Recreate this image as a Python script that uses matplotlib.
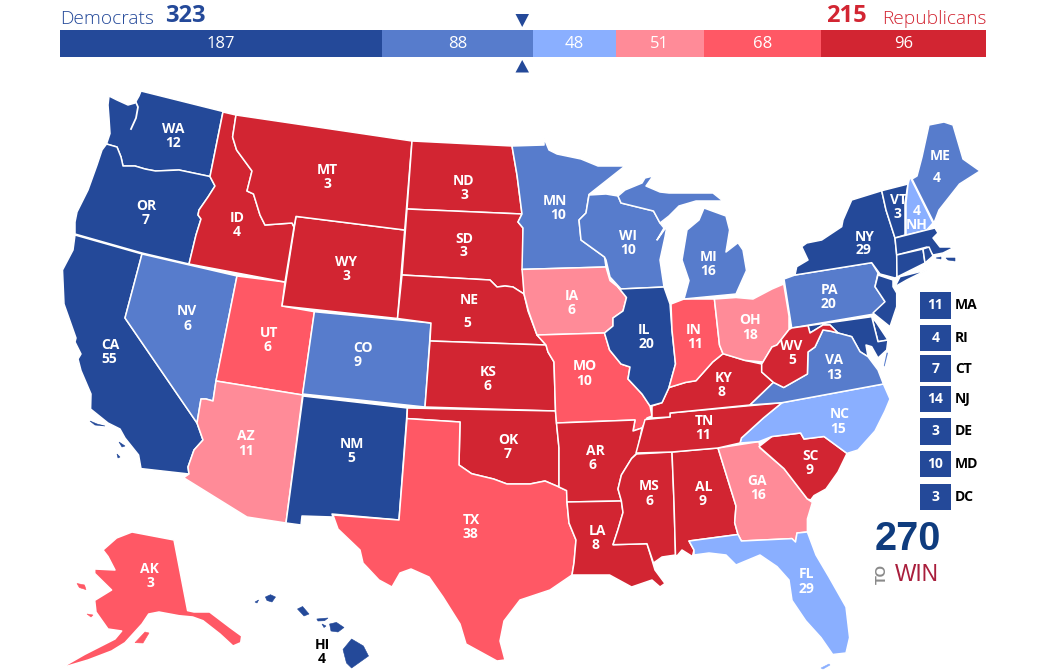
import matplotlib
matplotlib.use("Agg")
import matplotlib.pyplot as plt
from matplotlib.patches import Polygon, Rectangle

# ---- data ----
PARTIES = ["Democrats", "Republicans"]
TOTALS = [323, 215]
SEGMENTS = [187, 88, 48, 51, 68, 96]
PALETTE = ["#244999", "#577CCC", "#8AAFFF", "#FF8B98", "#FF5865", "#D22532"]

VOTES = {"WA":12,"OR":7,"CA":55,"NV":6,"ID":4,"MT":3,"WY":3,"UT":6,"AZ":11,"CO":9,"NM":5,
 "ND":3,"SD":3,"NE":5,"KS":6,"OK":7,"TX":38,"MN":10,"IA":6,"MO":10,"AR":6,"LA":8,"WI":10,
 "IL":20,"MI":16,"IN":11,"OH":18,"KY":8,"TN":11,"MS":6,"AL":9,"GA":16,"FL":29,"SC":9,"NC":15,
 "VA":13,"WV":5,"PA":20,"NY":29,"VT":3,"NH":4,"ME":4,"AK":3,"HI":4,
 "MA":11,"RI":4,"CT":7,"NJ":14,"DE":3,"MD":10,"DC":3}
RATING = {0:"WA OR CA NM IL NY VT MA RI CT NJ DE MD DC HI",
          1:"NV CO MN WI MI PA VA ME",
          2:"NH FL NC",
          3:"AZ IA OH GA",
          4:"AK UT TX MO IN",
          5:"ID MT WY ND SD NE KS OK AR LA MS AL TN KY WV SC"}
SIDE_STATES = ["MA", "RI", "CT", "NJ", "DE", "MD", "DC"]

# ---- map geometry (screen pixels of the drawing) ----
SHAPES = {
"WA":[[(109,96),(117,100),(128,105),(135,103),(139,96),(141,91),(223,111.5),(210,176.5),(179,170),(155.5,171),(145,169),(135,166),(123,166),(121,157),(117,147),(106.5,144),(110,133.5),(109,118),(108,105)]],
"OR":[[(106.5,144),(117,147),(121,157),(123,166),(135,166),(145,169),(155.5,171),(179,170),(210,176.5),(215,186),(208,197),(199,210),(198,215),(201,219),(196,235),(189,264),(142,253),(75,234),(75,222),(77,212),(88,190),(97,165),(102,150)]],
"CA":[[(75,235),(142,254),(125,318),(197,423),(203,440),(194,450),(188,467),(189,474),(141,468.6),(138.6,455),(125,438),(120,429),(108,423),(90.6,409),(91,394),(81,370.6),(78,359),(81,354),(75,342),(76,338),(64,304),(62.5,270),(73,250)]],
"NV":[[(142,254),(237,276),(216,381),(213,401),(206,399),(201,399),(199.5,408),(197,423),(125,318)]],
"UT":[[(237,276),(285,282),(282,306),(314.4,311.7),(302.6,395),(216,381)]],
"AZ":[[(216,381),(302.6,395),(286,523),(247,517),(183.6,477.7),(189,474),(188,467),(194,450),(203,440),(197,423),(199.5,408),(201,399),(206,399),(213,401)]],
"NM":[[(303,396),(407.4,408),(399,520),(332,514),(333,517),(302,516),(301,525),(286,523)]],
"CO":[[(314.4,311.7),(431,323),(425,407),(302.6,394)]],
"WY":[[(296,216.4),(404.7,230),(397.5,318.5),(282,306)]],
"ID":[[(223,112),(236,115),(232.6,137),(236.6,150),(252,171),(247,191),(253.5,194),(260,215),(265,225),(292,223),(294,227),(285,282),(189,264),(196,235),(201,219),(198,215),(199,210),(208,197),(215,186),(210,176.5)]],
"MT":[[(236,115),(412,141),(404.7,230),(296,216.4),(294,227),(292,223),(265,225),(260,215),(253.5,194),(247,191),(252,171),(236.6,150),(232.6,137)]],
"ND":[[(412,141),(512,146),(517,175),(522,214),(407,209)]],
"SD":[[(407,209),(522,214),(518,222),(523,228),(523,270),(524,294),(513,287),(505,286),(497,287),(490,280),(402,275)]],
"NE":[[(402,275),(490,280),(497,287),(505,286),(513,287),(524,294),(528,311),(537,335),(546,345),(430,341),(431,323),(397.5,318.5)]],
"KS":[[(430,341),(546,345),(548,352),(554,362),(555.5,411),(425,407)]],
"OK":[[(407.4,408),(555.5,411),(556.5,423),(559,448),(559,487),(545,481),(530,484),(520,484),(507,484),(493.6,479),(471.6,473.7),(459,465),(460,422),(407,418.6)]],
"TX":[[(407,418.6),(460,422),(459,465),(471.6,473.7),(493.6,479),(507,484),(520,484),(530,484),(545,481),(559,487),(566.6,490.6),(567,502),(569,523),(576,540),(574,563),(572,575),(550,590),(520,600),(504,621),(500,641),(505,660),(497,661),(466,644),(460,624),(443,597),(429,577),(411,569),(400,573),(392,587),(379,580),(363,563),(360,550),(338,529),(333,515),(399,520)]],
"MN":[[(512,146),(544,145),(544,138),(549,150),(557,154),(581,159),(598,166),(625,166),(589,194.4),(586,213),(579,220),(581,240),(604.5,257),(606,267),(522,269.4),(523,228),(518,222),(522,214),(517,175)]],
"WI":[[(589,195),(606,194),(618,196),(621,203),(653.5,211),(660,223),(664,228),(657,240),(667,226),(665,237),(660,260),(664,287),(621,289),(610,277),(606,260),(604.5,257),(581,240),(579,220),(586,213)]],
"IA":[[(522,269.4),(606,267),(610,280.6),(618,287),(626.5,297.5),(623,311),(613,318),(613,326),(604.5,333),(537,335),(528.5,311),(524,294),(523,280)]],
"MO":[[(537,335),(604.5,333),(606,338),(609.6,350),(621,364),(630,367),(628,379),(642,394),(650,406),(652,416),(647,418),(642,428),(633,431),(635,420),(556.5,423),(555.5,411),(554,362),(548,352),(546,345)]],
"AR":[[(556.5,423),(635,420),(633,431),(642,428),(637,453),(631.6,458.5),(621.4,475),(618,489),(621.4,501),(567,502),(566.6,490.6),(559,487),(559,448)]],
"LA":[[(567,502),(621.4,501),(623,512.5),(618,529.5),(613,544.7),(647,543.7),(652,560),(655,570),(665,583.5),(660,587),(652,580),(631.6,587),(609.6,575),(584,575),(572,575),(574,563),(576,540),(569,523)]],
"MS":[[(636.6,454),(672,452),(674,502),(675.5,555),(662,557),(653.5,563),(647,543.7),(613,544.7),(618,529.5),(623,512.5),(621.4,501),(618,489),(621.4,475),(631.6,458.5)]],
"AL":[[(672,452),(718,448),(736,506),(734.7,522.7),(738,534.5),(689,541),(694,550),(692.4,556.5),(682,550),(677,556),(675.5,555),(674,502)]],
"GA":[[(718,448),(759,441.6),(760,448),(784,468.6),(807.4,499),(812.4,502.4),(807.4,519),(807.4,532),(797,533),(795.5,542),(792,538.6),(741.4,541),(738,534.5),(734.7,522.7),(736,506)]],
"FL":[[(689,541),(738,534.5),(741.4,541),(792,538.6),(795.5,542),(797,533),(807.4,532),(816,555),(829,577),(846,607),(849.6,637.6),(846,653),(832.7,654.5),(821,637.6),(805.7,620.7),(792,600.4),(789,580),(777,566.6),(760,555),(748,560),(736,565),(726,555),(709,553),(694,555),(694,550)]],
"SC":[[(759,446.6),(772,436.5),(800.6,433),(804,439),(824,436.5),(847,453.4),(838,472),(826,489),(814,495.6),(810.7,500),(807.4,499),(784,468.6)]],
"NC":[[(740,443),(741.4,438),(763.4,418),(782,402.7),(883.4,384),(890,399),(885,411),(875,431),(858,450),(847,453.4),(824,436.5),(804,439),(800.6,433),(772,436.5),(759,441.6)]],
"TN":[[(636,453),(645,419.6),(670,417),(670,413),(782,402.7),(763.4,418),(741.4,438),(740,443),(718,448),(672,452)]],
"KY":[[(652,416),(652,406),(662,402.7),(669,387.5),(685.6,382.4),(696,380.7),(712.7,362),(723,353.7),(745,360.4),(761.7,364),(761.7,372),(773.5,382.4),(750,405),(670,413),(670,417),(652,418)]],
"IL":[[(620,289),(664,287),(670,304),(672,330),(675.5,364),(669,387.5),(662,402.7),(650,406),(642,394),(628,379),(630,367),(621,364),(609.6,350),(606,338),(604.5,333),(613,326),(613,318),(623,311),(626.5,297.5),(618,287)]],
"IN":[[(671,304),(684,299),(714.4,299),(719.5,345),(723,353.7),(712.7,362),(696,380.7),(685.6,382.4),(669,387.5),(675.5,364),(672,330)]],
"OH":[[(714.4,299),(736,297.5),(753,299),(772,289),(783.7,284),(789,316),(789,329.6),(777,345),(772,347),(763,362),(745,360.4),(723,353.7),(719.5,345)]],
"MI":[[(684,299),(736,294),(746.5,270.5),(743,250),(738,242.7),(726,252),(729.6,230),(726,216),(704,208),(699,220),(687,230),(682,260),(689,280.6)],
      [(618,196),(625,190),(642,183),(645,178),(653,176),(646,186),(660,192),(669,193),(713,193),(723,201),(696,201),(679,206),(669,216),(660,223),(653.5,211),(621,203)]],
"PA":[[(784,279),(795,275),(871.7,262.7),(878,273),(875,286.7),(885,301.7),(880,313),(791.7,328)]],
"NY":[[(795,275),(796.7,266.7),(808,260),(801.7,246.7),(806.7,243),(821.7,240),(841.7,226.7),(843,220),(851.7,200),(881.7,190.7),(886,210),(895,238),(896.7,255),(897,277),(895,278),(880,274),(871.7,262.7)],
      [(895,286.7),(900,276.7),(926.7,270),(906.7,280)]],
"NJ":[[(878,275),(893,280),(893,286.7),(896.7,293),(896.7,306.7),(890,326.7),(873,313),(885,301.7),(875,286.7)]],
"DE":[[(871.7,316.7),(876.7,323),(888,340),(878,341.7)]],
"MD":[[(808,325.7),(871.7,316.7),(878,341.7),(888,340),(886.7,350),(878,358),(871.7,346.7),(866,345),(868,356.7),(860,351.7),(851.7,336.7),(838,333),(830,325),(823,325),(810,333)]],
"VA":[[(750,405),(773.5,382.4),(783.7,387.5),(807.4,374),(808,352),(815,347),(823,330),(830,331),(838,333),(851.7,336.7),(860,351.7),(868,356.7),(878,370),(883.4,384),(782,402.7)],
      [(886,352),(889,352),(885,368),(883,366)]],
"WV":[[(761.7,364),(763,362),(772,347),(777,345),(789,329.6),(791.7,328),(808,325.7),(810,333),(823,325),(830,325),(838,333),(830,331),(823,330),(815,347),(808,352),(807.4,374),(783.7,387.5),(773.5,382.4),(761.7,372)]],
"VT":[[(881.7,190.7),(908,184),(905,203),(905,235),(895,238),(886,210)]],
"NH":[[(910,176.7),(916.7,190),(933,223),(926.7,230),(906,235),(906,203),(908,184)]],
"ME":[[(917,176),(922,157),(929,125),(944,122),(953,125),(963,159),(980,171),(959.5,184),(939,210),(934,223),(912,179)]],
"MA":[[(895,238),(926.7,230),(935,228),(938,233),(933,238),(940,247),(950,247),(953,248),(943,253),(933,255),(927,247),(896.7,255)]],
"CT":[[(896.7,255),(923,249),(925,263),(897,277)]],
"RI":[[(923,249),(929,247),(933,256),(925,263)]],
"AK":[[(103,550),(116.6,538),(132,532),(174,540),(187.6,610.6),(194,612),(209.6,612),(230,627.5),(241.7,636),(240.7,642.7),(233,646),(220,634),(203,620.7),(192.7,617),(179,615.7),(159,612),(148.7,614),(142,624),(125,642.7),(111.6,651),(88,660),(61,668),(84.5,654.5),(115,639),(121.7,631),(108,629),(96,612),(94.7,600.4),(111.6,590),(94.7,573.4),(94.7,569),(115,570),(108,556.5)]],
}
# small islands, drawn without the white rim
ISLANDS = {
"AK":[[(135,642.7),(145,632),(149,633),(143,643)],[(77,583.5),(84.5,585),(86,589.6),(79.4,587.6)],[(87,614),(93,615),(91,617)]],
"CA":[[(90,421),(97,424),(105,426),(95,425)],[(119,442),(125,446),(122,447)],[(117,454),(120,457),(118,458)]],
"FL":[[(821,668),(829,664),(830,665),(823,669)]],
"MA":[[(936,258),(941,257),(941,259)],[(946,258),(955,258),(955,261),(948,260)]],
"HI":[[(343,649.5),(351.6,639),(363.4,646),(368.5,656),(351.6,668),(346.5,663)],
      [(329.6,624),(336.4,622.4),(344,627.5),(338,632),(331,631)],
      [(316.8,619),(328,618),(324.5,620.7),(318,621)],
      [(297.5,609),(302.6,606.5),(309,614),(304,616)],
      [(265.4,597),(270.5,594.7),(275.5,597),(272,602),(267,600.5)],
      [(322,624),(326,626),(324,627.5)],[(255,602),(258.6,600),(257,603)]],
}

# label line centres: state -> (x1, y1, x2, y2)
LABEL_AT = {"WA":(173,129,173,143),"OR":(146,205.5,146,220),"MT":(327,170,327,184),"ND":(464,181,464,195),
"ID":(237,218,237,232),"WY":(346,262,346,276),"SD":(464,239,463,252),"NE":(469,300,467,323),"NV":(187,311,187,326),
"UT":(269,333,267,347),"CO":(363,348,358,362),"CA":(110,345,109,359),"AZ":(246,436.5,246,451),"NM":(352,444,351,458),
"KS":(488,372,487,386),"OK":(508,439.5,508,454),"TX":(471,520,470,534),"MN":(555,201,558,215),"WI":(628,236,628,250),
"IA":(572,296.5,572,310.5),"MI":(709,257,708,271),"IL":(644,329.5,646,344),"IN":(694,330,695,344),"OH":(750,320.5,750,334.7),
"MO":(585,366.5,584,380.7),"KY":(724,378,722,392),"WV":(791.5,346,792,360.4),"VA":(834,360.4,834,374.6),"NC":(839.5,414.5,838,428.7),
"TN":(704,420.6,702.6,434.8),"AR":(595,450.7,592.7,465),"SC":(810.7,455.8,809.7,470),"GA":(756.6,481,758,495),"AL":(704,487,702.6,501.4),
"MS":(649.5,486,650,500.7),"LA":(597.8,531,596,545),"FL":(806,574.4,806.7,588.6),"PA":(829.7,290,828.7,304),"NY":(865,236.6,863,250.5),
"VT":(898,200,897,214),"ME":(940,156,937,178.5),"AK":(149,568.7,150.8,583),"HI":(322,644.7,322,659)}
SIDE_BOX_Y = {"MA":(292,318.5),"RI":(324.5,350.5),"CT":(355.4,381.7),"NJ":(385.8,412),"DE":(418,444.6),"MD":(450.7,477),"DC":(484,510.3)}

plt.rcParams['font.family'] = ['Open Sans', 'DejaVu Sans']
fig = plt.figure(figsize=(10.5, 6.7), dpi=100, facecolor="white")
ax = fig.add_axes([0, 0, 1, 1])
ax.set_xlim(0, 1050); ax.set_ylim(670, 0); ax.axis("off")

state_color = {}
for k, names in RATING.items():
    for s in names.split():
        state_color[s] = PALETTE[k]

for s, parts in SHAPES.items():
    for pts in parts:
        ax.add_patch(Polygon(pts, closed=True, facecolor=state_color[s], edgecolor="white", lw=1.1, joinstyle="round", zorder=2))
for s, parts in ISLANDS.items():
    for pts in parts:
        ax.add_patch(Polygon(pts, closed=True, facecolor=state_color[s], edgecolor=state_color[s], lw=0.4, zorder=2))

# Puget Sound, cut in white
ax.plot([134,138,136,131], [98,107,118,129], color="white", lw=1.3, zorder=3)

LBL = dict(ha="center", va="center", fontsize=10, fontweight="bold", zorder=5)
for s, (x1, y1, x2, y2) in LABEL_AT.items():
    c = "black" if s == "HI" else "white"
    ax.text(x1, y1, s, color=c, **LBL)
    ax.text(x2, y2, str(VOTES[s]), color=c, **LBL)
# NH reads number first
ax.text(917, 211, str(VOTES["NH"]), color="white", **LBL)
ax.text(917, 225, "NH", color="white", **LBL)

# side boxes
for s in SIDE_STATES:
    y0, y1 = SIDE_BOX_Y[s]
    ax.add_patch(Rectangle((920, y0), 31, y1 - y0, facecolor=state_color[s], edgecolor="none", zorder=4))
    ax.text(935.5, (y0 + y1) / 2, str(VOTES[s]), color="white", **LBL)
    ax.text(955, (y0 + y1) / 2, s, color="black", ha="left", va="center", fontsize=10, fontweight="bold", zorder=5)

# summary bar
scale = (986 - 60) / sum(SEGMENTS)
left = 60
for v, c in zip(SEGMENTS, PALETTE):
    ax.barh(43.5, v * scale, height=26.5, left=left, color=c, edgecolor="none", zorder=4)
    ax.text(left + v * scale / 2, 43.5, str(v), color="white", ha="center", va="center", fontsize=12, zorder=5)
    left += v * scale

# 270 markers
ax.add_patch(Polygon([(515.5,14),(529,14),(522.2,27)], facecolor=PALETTE[0], edgecolor="none"))
ax.add_patch(Polygon([(515.5,72.5),(529,72.5),(522.2,60)], facecolor=PALETTE[0], edgecolor="none"))

ax.text(60, 18.5, PARTIES[0], color=PALETTE[0], ha="left", va="center", fontsize=13.8, fontweight="light")
ax.text(165, 16.5, str(TOTALS[0]), color=PALETTE[0], ha="left", va="center", fontsize=17, fontweight="bold")
ax.text(986, 18.5, PARTIES[1], color=PALETTE[5], ha="right", va="center", fontsize=13.8, fontweight="light")
ax.text(866.5, 16.5, str(TOTALS[1]), color=PALETTE[5], ha="right", va="center", fontsize=17, fontweight="bold")

# logo
ax.text(907.5, 539, "270", color="#0F3C7E", ha="center", va="center", fontsize=28.5, fontweight="bold", family="Liberation Sans")
ax.text(917, 574.5, "WIN", color="#A91E3C", ha="center", va="center", fontsize=16.3, family="Liberation Sans")
ax.text(882, 574.5, "TO", color="#8A8A8A", ha="center", va="center", fontsize=10.5, fontweight="bold", rotation=90, family="Liberation Sans")

fig.savefig("out.png", dpi=100, facecolor="white")
